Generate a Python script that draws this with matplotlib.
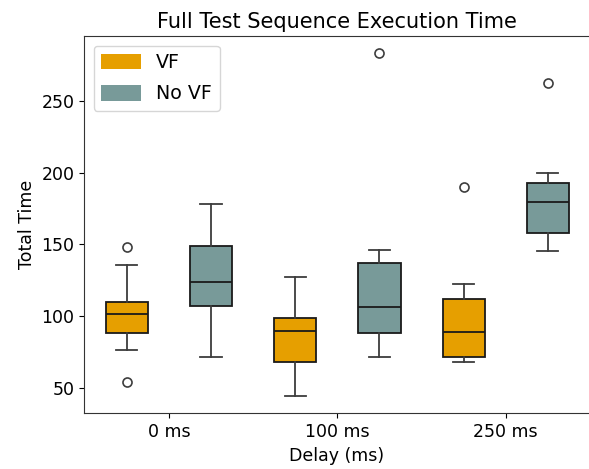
import matplotlib
matplotlib.use("Agg")
import matplotlib.pyplot as plt
from matplotlib.patches import Patch

categories = ["0 ms", "100 ms", "250 ms"]
groups = ["VF", "No VF"]
colors = {"VF": "#E69F00", "No VF": "#789A99"}

# box statistics per group, one value per delay category
vf_whislo = [76.3, 44.2, 67.9]
vf_q1 = [88.4, 67.9, 71.4]
vf_med = [101.2, 89.3, 88.6]
vf_q3 = [109.5, 98.4, 112.0]
vf_whishi = [135.4, 127.4, 122.5]
vf_fliers = [[148.3, 54.2], [], [189.7]]

novf_whislo = [71.4, 71.4, 145.5]
novf_q1 = [107.0, 88.4, 157.7]
novf_med = [123.5, 106.3, 179.5]
novf_q3 = [148.8, 136.7, 193.0]
novf_whishi = [178.3, 146.0, 199.5]
novf_fliers = [[], [283.4], [262.3]]

data = {
    "VF": (vf_whislo, vf_q1, vf_med, vf_q3, vf_whishi, vf_fliers),
    "No VF": (novf_whislo, novf_q1, novf_med, novf_q3, novf_whishi, novf_fliers),
}

plt.rcParams["font.family"] = "DejaVu Sans"
plt.rcParams["font.size"] = 12.5

fig = plt.figure(figsize=(5.89, 4.69), dpi=100)
ax = fig.add_axes([84 / 589, 1 - 413.3 / 469, (590 - 84) / 589, (413.3 - 36) / 469])

offsets = {"VF": -0.25, "No VF": 0.25}
width = 0.25
for g in groups:
    lo, q1, med, q3, hi, fl = data[g]
    stats = []
    for i in range(len(categories)):
        stats.append(dict(whislo=lo[i], q1=q1[i], med=med[i], q3=q3[i],
                          whishi=hi[i], fliers=fl[i]))
    pos = [i + offsets[g] for i in range(len(categories))]
    ax.bxp(stats, positions=pos, widths=width, patch_artist=True,
           manage_ticks=False,
           boxprops=dict(facecolor=colors[g], edgecolor="#1a1a1a", linewidth=1.3),
           whiskerprops=dict(color="#3d3d3d", linewidth=1.3),
           capprops=dict(color="#3d3d3d", linewidth=1.3),
           medianprops=dict(color="#1a1a1a", linewidth=1.3),
           flierprops=dict(marker="o", markerfacecolor="none",
                           markeredgecolor="#3d3d3d", markersize=6.5,
                           markeredgewidth=1.2))

ax.set_xticks(range(len(categories)))
ax.set_xticklabels(categories)
ax.set_xlim(-0.504, 2.5)
ax.set_ylim(32.1, 295.3)
ax.set_yticks([50, 100, 150, 200, 250])
ax.set_xlabel("Delay (ms)")
ax.set_ylabel("Total Time")
ax.set_title("Full Test Sequence Execution Time", fontsize=15)
for s in ax.spines.values():
    s.set_color("#333333")

handles = [Patch(facecolor=colors[g], edgecolor="none", label=g) for g in groups]
ax.legend(handles=handles, loc="upper left", fontsize=13.7, handlelength=2.1,
          handleheight=0.9, labelspacing=0.65)

fig.savefig("out.png", dpi=100)
